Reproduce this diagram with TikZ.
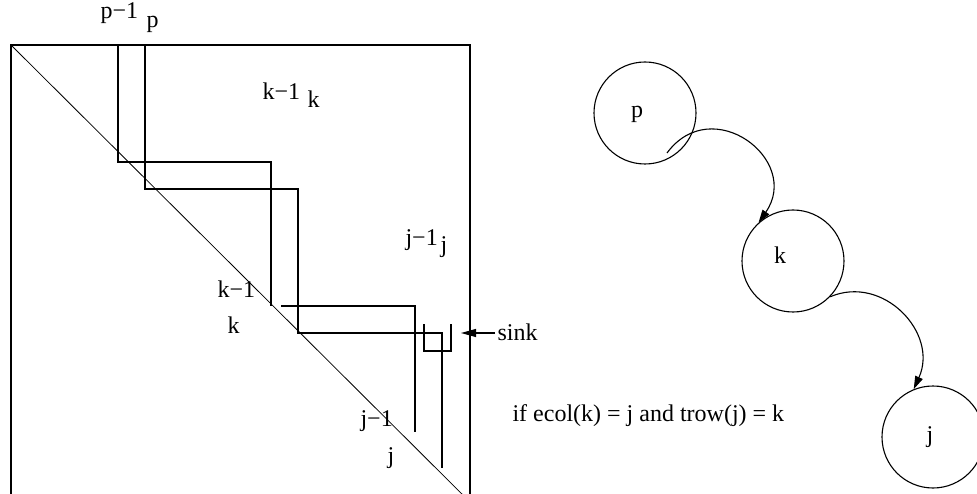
\documentclass[tikz,border=0pt]{standalone}
\usepackage{fontspec}
\setmainfont{Liberation Serif}
\usetikzlibrary{arrows.meta}
\begin{document}
\begin{tikzpicture}[x=1pt,y=-1pt,line width=1.1pt,
  lbl/.style={anchor=base west,inner sep=0pt,font=\fontsize{24}{28}\selectfont},
  clbl/.style={anchor=center,inner sep=0pt,font=\fontsize{24}{28}\selectfont},
  vtx/.style={draw,circle,minimum size=102pt,inner sep=0pt},
  arr/.style={-{Triangle[length=13pt,width=8pt]}},
  sinkarr/.style={-{Triangle[length=15pt,width=8pt]}}]
\useasboundingbox (0,0) rectangle (977,494);
\begin{scope}
\clip (0,0) rectangle (977,494);
% matrix frame and diagonal
\draw (11,510) -- (11,45) -- (470,45) -- (470,510);
\draw[line width=0.8pt] (11,45) -- (478,510);
% staircase lines
\draw (118,45) -- (118,162) -- (271,162) -- (271,306);
\draw (281,306) -- (415,306) -- (415,432);
\draw (145,45) -- (145,189) -- (298,189) -- (298,333) -- (442,333) -- (442,468);
% sink box
\draw (424,324) -- (424,351) -- (451,351) -- (451,324);
% labels in matrix
\node[lbl] (lp1) at (100,19) {p−1};
\node[lbl] (lp) at (146,28) {p};
\node[lbl] (lk1) at (262,100) {k−1};
\node[lbl] (lk) at (307,108) {k};
\node[lbl] (lj1) at (405,246) {j−1};
\node[lbl] (lj) at (440,253) {j};
\node[lbl] (rk1) at (217,298) {k−1};
\node[lbl] (rk) at (227,333) {k};
\node[lbl] (rj1) at (360,426) {j−1};
\node[lbl] (rj) at (387,463) {j};
% sink
\node[lbl] (sink) at (497,341) {sink};
\coordinate (sinktip) at (461,333);
\draw[sinkarr] (sink.west |- sinktip) ++(-2,0) -- (sinktip);
% condition
\node[lbl] (cond) at (512,421) {if ecol(k) = j and trow(j) = k};
% graph
\node[vtx] (p) at (645,113) {};
\node[vtx] (k) at (793,261) {};
\node[vtx] (j) at (933,437) {};
\node[clbl] (tp) at (637,114) {p};
\node[clbl] (tk) at (780,255) {k};
\node[clbl] (tj) at (930,437) {j};
\coordinate (s1) at (667,153);
\draw[arr] (s1) .. controls (712,92) and (802,160) .. (k.132);
\draw[arr] (k.316) .. controls (883,274) and (939,333) .. (j.112);
\end{scope}
\end{tikzpicture}
\end{document}
